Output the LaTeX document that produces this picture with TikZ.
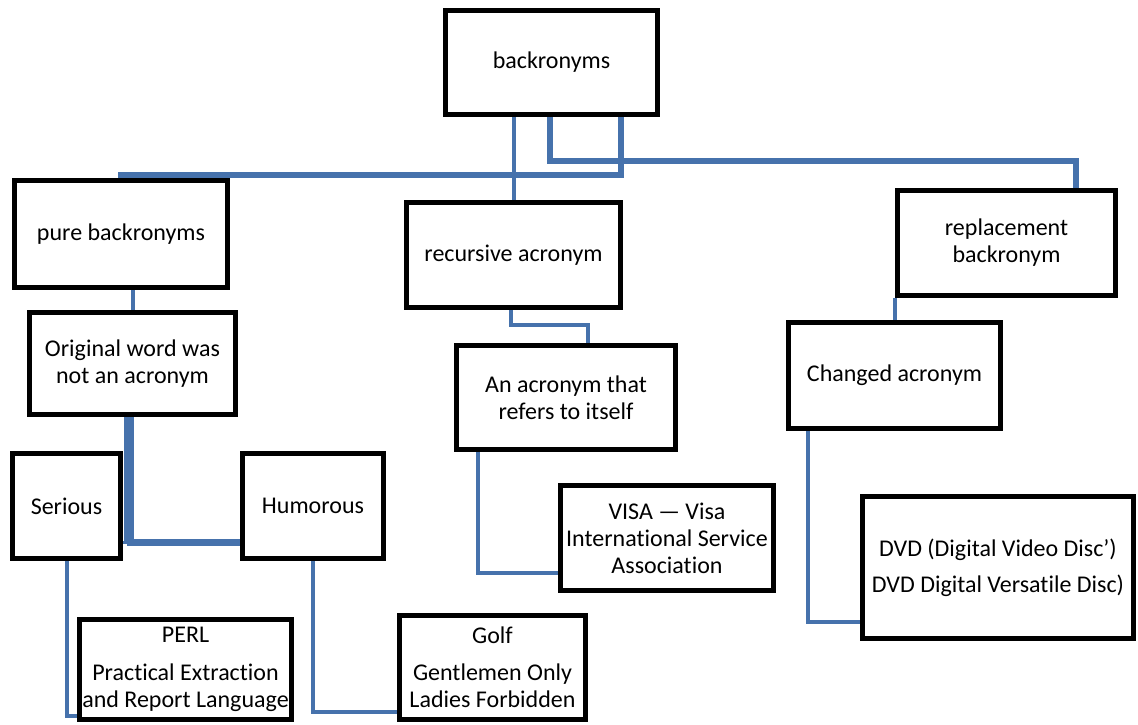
\documentclass[tikz,border=0pt]{standalone}
\usepackage{fontspec}
\setmainfont{Carlito}[Ligatures={NoCommon,NoContextual}]
\definecolor{connblue}{RGB}{70,114,172}
\pgfdeclarelayer{bg}
\pgfsetlayers{bg,main}
\tikzset{
  box/.style={draw=black, line width=5pt, fill=white, rectangle, inner sep=0pt, align=center,
    font=\fontsize{24}{27}\selectfont},
  conn/.style={draw=connblue, line width=4pt},
  connthick/.style={draw=connblue, line width=6pt}
}
\begin{document}
\begin{tikzpicture}[x=1pt,y=1pt]
\useasboundingbox (0,0) rectangle (1138,-724);
% boxes
\path
  node[box, minimum width=212pt, minimum height=104pt] (back) at (551.5,-62.5) {backronyms}
  node[box, minimum width=213pt, minimum height=107pt] (pure) at (121,-234) {pure backronyms}
  node[box, minimum width=214pt, minimum height=105pt] (rec) at (513.5,-255) {recursive acronym}
  node[box, minimum width=218pt, minimum height=105pt] (repl) at (1006.5,-243) {replacement\\backronym}
  node[box, minimum width=206pt, minimum height=102pt] (orig) at (132.5,-363.5) {Original word was\\not an acronym}
  node[box, minimum width=108pt, minimum height=105pt] (ser) at (66.5,-506) {Serious}
  node[box, minimum width=141pt, minimum height=105pt] (hum) at (313,-506) {Humorous}
  node[box, minimum width=212pt, minimum height=100pt] (perl) at (185.5,-669.5) {PERL\\[11pt]Practical Extraction\\and Report Language}
  node[box, minimum width=186pt, minimum height=104pt] (golf) at (492.5,-667.5) {Golf\\[10pt]Gentlemen Only\\Ladies Forbidden}
  node[box, minimum width=219pt, minimum height=104pt] (acr) at (566,-397.5) {An acronym that\\refers to itself}
  node[box, minimum width=213pt, minimum height=105pt] (visa) at (667,-538) {VISA — Visa\\International Service\\Association}
  node[box, minimum width=212pt, minimum height=106pt] (chg) at (894.5,-375.5) {Changed acronym}
  node[box, minimum width=271pt, minimum height=142pt] (dvd) at (998,-567.5) {DVD (Digital Video Disc’)\\[9pt]DVD Digital Versatile Disc)};
% connectors
\begin{pgfonlayer}{bg}
\draw[conn] (rec.north |- back.south) -- (rec.north);
\draw[connthick] ([xshift=-2pt]back.south) -- ++(0,-44) -| ([xshift=69.5pt]repl.north);
\draw[connthick] ([xshift=69.5pt]back.south) -- ++(0,-58) -| (pure.north);
\draw[conn] (orig.north |- pure.south) -- (orig.north);
\draw[conn, line width=7pt] ([xshift=-2pt]orig.south) |- ([yshift=-36pt]hum.west);
\draw[conn, line width=3pt] ([xshift=-7pt]orig.south) |- ([yshift=-36pt]ser.east);
\draw[conn] (ser.south) |- ([yshift=-46.5pt]perl.west);
\draw[conn] (hum.south) |- ([yshift=-44.5pt]golf.west);
\draw[conn] ([xshift=-2.5pt]rec.south) -- ++(0,-15) -| ([xshift=22pt]acr.north);
\draw[conn] ([xshift=-88pt]acr.south) |- ([yshift=-35pt]visa.west);
\draw[conn] (chg.north |- repl.south) -- (chg.north);
\draw[conn] ([xshift=-86.5pt]chg.south) |- ([yshift=-54.5pt]dvd.west);
\end{pgfonlayer}
\end{tikzpicture}
\end{document}
